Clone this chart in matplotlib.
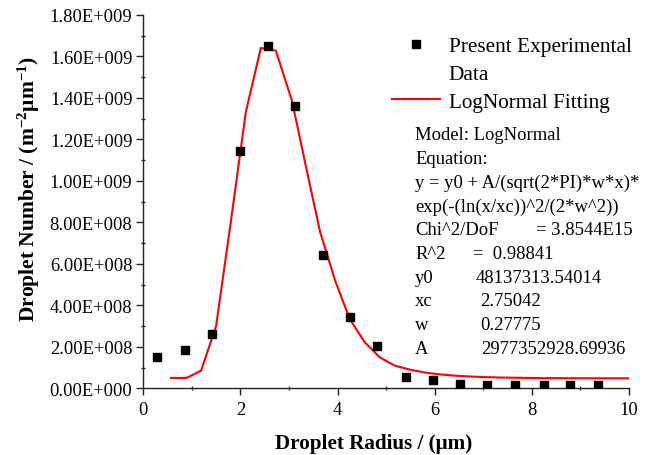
import numpy as np
import matplotlib
matplotlib.use("Agg")
import matplotlib.pyplot as plt
from matplotlib.ticker import MultipleLocator, FuncFormatter
from matplotlib.lines import Line2D

plt.rcParams['font.family'] = ['Liberation Serif', 'DejaVu Serif']
plt.rcParams['mathtext.fontset'] = 'custom'
plt.rcParams['mathtext.rm'] = 'Liberation Serif:bold'
plt.rcParams['mathtext.default'] = 'rm'

# Donnees experimentales (rayon en um, nombre en 1e9)
rayon = [0.29, 0.85, 1.41, 1.99, 2.56, 3.12, 3.70, 4.25, 4.82, 5.40,
         5.97, 6.53, 7.08, 7.66, 8.24, 8.79, 9.37]
nombre = [0.152, 0.185, 0.262, 1.143, 1.649, 1.360, 0.644, 0.342, 0.203, 0.056,
          0.040, 0.022, 0.016, 0.016, 0.016, 0.016, 0.016]

# Courbe d'ajustement LogNormal (sommets)
fit_x = [0.57, 0.89, 1.19, 1.50, 1.81, 2.11, 2.42, 2.73, 3.06, 3.36, 3.64,
         3.95, 4.25, 4.56, 4.87, 5.18, 5.49, 5.80, 6.11, 6.41, 6.72, 7.03,
         7.34, 7.64, 7.95, 8.26, 8.57, 8.87, 9.18, 9.49, 9.80, 10.0]
fit_y = [0.050, 0.050, 0.085, 0.302, 0.816, 1.331, 1.641, 1.628, 1.387, 1.057,
         0.754, 0.519, 0.334, 0.222, 0.149, 0.109, 0.090, 0.076, 0.067, 0.061,
         0.057, 0.054, 0.052, 0.051, 0.050, 0.049, 0.049, 0.0485, 0.0484,
         0.0483, 0.0482, 0.0482]

# Texte du modele
modele_lignes = ["Model: LogNormal", "Equation:",
                 "y = y0 + A/(sqrt(2*PI)*w*x)*",
                 "exp(-(ln(x/xc))^2/(2*w^2))"]
param_noms = ["Chi^2/DoF", "R^2", "y0", "xc", "w", "A"]
param_vals = ["= 3.8544E15", "=  0.98841", "48137313.54014", "2.75042",
              "0.27775", "2977352928.69936"]

fig = plt.figure(figsize=(6.51, 4.56), dpi=100)
ax = fig.add_axes([143.3 / 651, (456 - 389.3) / 456, 485.7 / 651, 373.3 / 456])

ax.plot(fit_x, np.array(fit_y) * 1e9, color='red', lw=1.5, zorder=2)
ax.plot(rayon, np.array(nombre) * 1e9, 's', color='black', ms=5.5, zorder=3)

ax.set_xlim(0, 10)
ax.set_ylim(0, 1.8e9)
ax.xaxis.set_major_locator(MultipleLocator(2))
ax.xaxis.set_minor_locator(MultipleLocator(1))
ax.yaxis.set_major_locator(MultipleLocator(2e8))
ax.yaxis.set_minor_locator(MultipleLocator(1e8))


def format_e(v, pos):
    if v == 0:
        return "0.00E+000"
    e = int(np.floor(np.log10(abs(v)) + 1e-9))
    return f"{v / 10**e:.2f}E+{e:03d}"


ax.yaxis.set_major_formatter(FuncFormatter(format_e))

for s in ['top', 'right']:
    ax.spines[s].set_visible(False)
for s in ['left', 'bottom']:
    ax.spines[s].set_linewidth(1.0)
    ax.spines[s].set_color('#222222')
ax.tick_params(which='major', direction='out', length=4.8, width=1.0,
               labelsize=13.3, pad=3, color='#222222')
ax.tick_params(which='minor', direction='inout', length=3, width=1.0,
               color='#222222')
ax.tick_params(axis='x', which='major', pad=4)

ax.set_xlabel("Droplet Radius / (μm)", fontsize=15.2, fontweight='bold')
ax.xaxis.set_label_coords(0.474, -0.12)
ax.set_ylabel(r"Droplet Number / (m$^{-2}$μm$^{-1}$)", fontsize=15.5,
              fontweight='bold')
ax.yaxis.set_label_coords(-0.208, 0.536)

# Legende
handles = [Line2D([], [], ls='none', marker='s', color='black', ms=5.5),
           Line2D([], [], ls='none'),
           Line2D([], [], color='red', lw=1.5)]
labels = ["Present Experimental", "Data", "LogNormal Fitting"]
ax.legend(handles, labels, loc='upper left', bbox_to_anchor=(0.512, 0.943),
          frameon=False, fontsize=15.3, borderpad=0, borderaxespad=0,
          handlelength=2.25, handletextpad=0.42, labelspacing=0.37,
          numpoints=1)

# Bloc de texte du modele
def y_ax(py):
    return (389.3 - py) / 373.3


x0 = (415 - 143.3) / 485.7
for i, t in enumerate(modele_lignes):
    ax.text(x0, y_ax(136 + i * 23.7), t, transform=ax.transAxes,
            fontsize=13.4, va='center', ha='left')
val_x = [536, 473, 476, 480, 480, 481]
for j, (n, v) in enumerate(zip(param_noms, param_vals)):
    py = 136 + (j + 4) * 23.7
    ax.text(x0, y_ax(py), n, transform=ax.transAxes, fontsize=13.4,
            va='center', ha='left')
    ax.text((val_x[j] - 143.3) / 485.7, y_ax(py), v, transform=ax.transAxes,
            fontsize=13.4, va='center', ha='left')

fig.savefig("out.png", dpi=100)
